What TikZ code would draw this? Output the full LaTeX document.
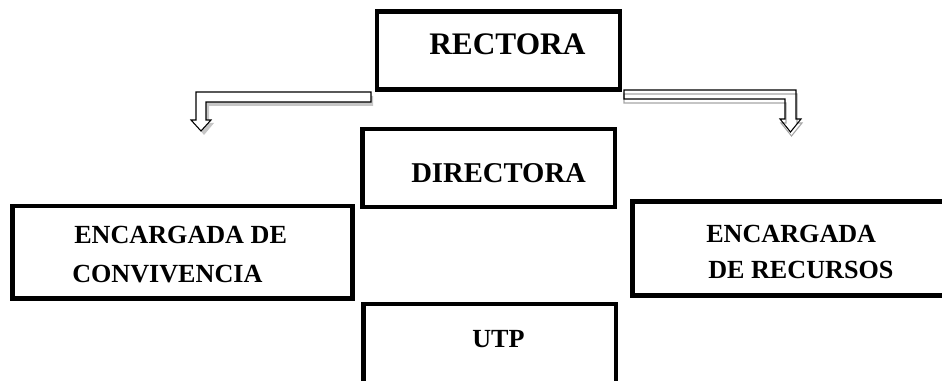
\documentclass[tikz,border=0pt]{standalone}
\usepackage{fontspec}
\setmainfont{Liberation Serif}
\begin{document}
\begin{tikzpicture}[x=0.75pt,y=-0.75pt,
  box/.style={draw=black,line width=3.4pt,rectangle,inner sep=0pt,fill=none},
  lbl/.style={inner sep=0pt,anchor=base west,font=\bfseries\fontsize{19.6pt}{23pt}\selectfont},
  arrowline/.style={draw=black,line width=0.8pt,line join=miter},
  arrowshadow/.style={draw=gray!70,line width=0.8pt,line join=miter}]
\useasboundingbox (0,0) rectangle (942,381);
% boxes
\node[box,minimum width=182.25pt,minimum height=58.5pt] (rectora) at (498.5,50.5) {};
\node[box,minimum width=189.4pt,minimum height=58.5pt] (directora) at (488.75,168) {};
\node[box,minimum width=255pt,minimum height=69.4pt] (conv) at (182.5,252.25) {};
\node[box,minimum width=234.4pt,minimum height=70.5pt] (recur) at (788.75,248.5) {};
\node[box,minimum width=189.4pt,minimum height=59.25pt] (utp) at (489.75,343.5) {};
% texts
\node[lbl,font=\bfseries\fontsize{23.5pt}{28pt}\selectfont] (trect) at (429,55) {RECTORA};
\node[lbl,font=\bfseries\fontsize{21.5pt}{26pt}\selectfont] (tdir) at (411,182) {DIRECTORA};
\node[lbl] (tconv1) at (74,243) {ENCARGADA DE};
\node[lbl] (tconv2) at (72,282) {CONVIVENCIA};
\node[lbl] (trec1) at (706,242) {ENCARGADA};
\node[lbl] (trec2) at (708,278) {DE RECURSOS};
\node[lbl] (tutp) at (472,347) {UTP};
% left block arrow (with filled shadow)
\fill[gray!45] (373,96) -- (199,96) -- (199,123) -- (194,123) -- (204,135) -- (214,123) -- (209,123) -- (209,106) -- (373,106) -- cycle;
\path[arrowline,fill=white] (371,92) -- (196,92) -- (196,120) -- (191,120) -- (201,131) -- (211,120) -- (206,120) -- (206,102) -- (371,102) -- cycle;
% right block arrow (double outline)
\path[arrowshadow] (624,94) -- (797,94) -- (797,123) -- (802,123) -- (791.5,136) -- (781,123) -- (786,123) -- (786,103) -- (624,103) -- cycle;
\path[arrowline] (624,90) -- (796,90) -- (796,119) -- (801,119) -- (790.5,132) -- (780,119) -- (785,119) -- (785,99) -- (624,99) -- cycle;
\end{tikzpicture}
\end{document}
